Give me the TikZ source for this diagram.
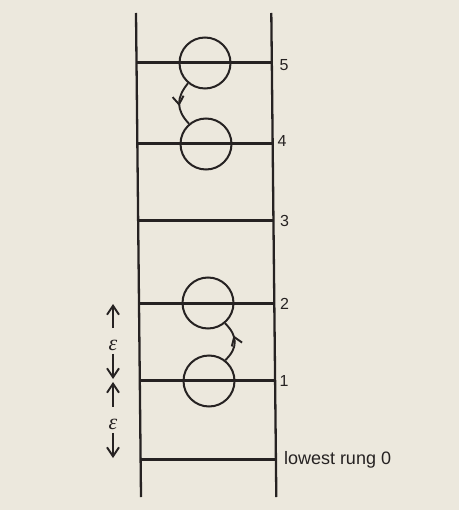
\documentclass[tikz,border=0pt]{standalone}
\usepackage{fontspec}
\newfontfamily\labfont{Liberation Sans}
\newfontfamily\epsfont{Liberation Serif}
\usetikzlibrary{arrows.meta,decorations.markings}
\definecolor{paper}{RGB}{236,232,221}
\definecolor{ink}{RGB}{38,34,34}
\begin{document}
\begin{tikzpicture}[x=1pt,y=-1pt,
  rail/.style={draw=ink, line width=2.3pt},
  rungline/.style={draw=ink, line width=3pt},
  ring/.style={draw=ink, circle, line width=2pt, minimum size=51pt, inner sep=0pt},
  lab/.style={text=ink, font=\labfont\fontsize{16}{16}\selectfont, inner sep=0pt, anchor=base west},
  biglab/.style={text=ink, font=\labfont\fontsize{18}{18}\selectfont, inner sep=0pt, anchor=base west},
  eps/.style={text=ink, font=\epsfont\itshape\fontsize{22}{22}\selectfont, inner sep=0pt},
  epsar/.style={draw=ink, line width=1.9pt, -{Straight Barb[length=9pt,width=12pt]}},
  hop/.style={draw=ink, line width=1.9pt,
    decoration={markings, mark=at position #1 with {\arrow{Straight Barb[length=8pt,width=11pt]}}},
    postaction={decorate}},
]
\fill[paper] (0,0) rectangle (459,510);
\useasboundingbox (0,0) rectangle (459,510);

% rails
\coordinate (LT) at (136,13);   \coordinate (LB) at (141,497);
\coordinate (RT) at (271.3,13); \coordinate (RB) at (276.3,497);
\draw[rail] (LT) -- (LB);
\draw[rail] (RT) -- (RB);

% rung end points
\coordinate (L5) at (136.5,63);  \coordinate (R5) at (271.8,63);
\coordinate (L4) at (137.4,144); \coordinate (R4) at (272.7,144);
\coordinate (L3) at (138.2,221); \coordinate (R3) at (273.5,221);
\coordinate (L2) at (139.0,303); \coordinate (R2) at (274.3,303);
\coordinate (L1) at (139.8,380); \coordinate (R1) at (275.1,380);
\coordinate (L0) at (140.6,459); \coordinate (R0) at (275.9,459);
\foreach \i in {0,...,5} {\draw[rungline] (L\i) -- (R\i);}

% rung labels
\node[lab] (n5) at (279.5,70.8) {5};
\node[lab] (n4) at (277.5,146.5) {4};
\node[lab] (n3) at (280,226.5) {3};
\node[lab] (n2) at (280,309) {2};
\node[lab] (n1) at (279.5,386.5) {1};
\node[biglab] (n0) at (283.8,464.8) {lowest rung 0};

% circles
\node[ring] (c5) at (205,63) {};
\node[ring] (c4) at (206,144) {};
\node[ring] (c2) at (208,303) {};
\node[ring] (c1) at (209,381) {};

% hops
\draw[hop=0.55] (c5.230) .. controls (176,98) and (176,110) .. (c4.130);
\draw[hop=0.65] (c1.52) .. controls (238,348) and (238,336) .. (c2.310);

% epsilon spacings
\coordinate (t2) at (113,304);
\coordinate (t1a) at (113,379);
\coordinate (t1b) at (113,382);
\coordinate (t0) at (113,458);
\node[eps] (e2) at (113,345.5) {ε};
\node[eps] (e1) at (113,424) {ε};
\draw[epsar, shorten <=12pt] (e2) -- (t2);
\draw[epsar, shorten <=3pt] (e2) -- (t1a);
\draw[epsar, shorten <=12pt] (e1) -- (t1b);
\draw[epsar, shorten <=3.5pt] (e1) -- (t0);
\end{tikzpicture}
\end{document}
